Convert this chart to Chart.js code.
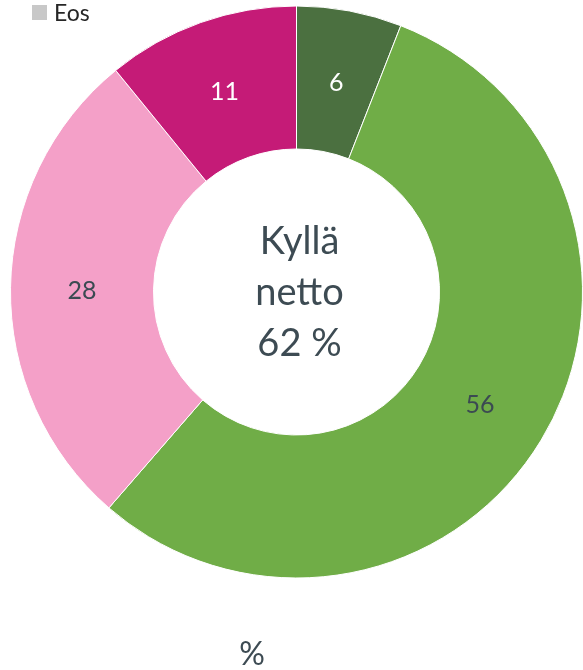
<!DOCTYPE html>
<html>
<head>
<meta charset="utf-8">
<script src="https://cdn.jsdelivr.net/npm/chart.js@4/dist/chart.umd.min.js"></script>
<style>
  html, body { margin: 0; padding: 0; background: #fff; }
  #wrap { width: 583px; height: 670px; position: relative; }
</style>
</head>
<body>
<div id="wrap"><canvas id="myChart" width="583" height="670"></canvas></div>
<script>
var labels = ['Kyllä, ehdottomasti', 'Kyllä, jossain määrin', 'Ei, tuskin', 'Ei, ehdottomasti', 'Eos'];
var values = [6, 56, 28, 11, 0];
var colors = ['#4b7040', '#70ad47', '#f4a0c8', '#c51b77', '#c8c8c8'];
var labelColors = ['#ffffff', '#3b4a52', '#3b4a52', '#ffffff', '#3b4a52'];
var centerLines = ['Kyllä', 'netto', '62 %'];
var unitLabel = '%';

// draws value labels, center text, the legend entry and the unit label
var extras = {
  id: 'extras',
  afterDatasetsDraw: function(chart) {
    var ctx = chart.ctx;
    var meta = chart.getDatasetMeta(0);
    ctx.save();
    ctx.textAlign = 'center';
    ctx.textBaseline = 'middle';
    ctx.font = '25px Lato, "Noto Sans", sans-serif';
    meta.data.forEach(function(arc, i) {
      if (!values[i]) return;
      var p = arc.tooltipPosition();
      ctx.fillStyle = labelColors[i];
      ctx.fillText(values[i], p.x, p.y + 2);
    });

    var c = meta.data[0];
    ctx.fillStyle = '#3d4b53';
    ctx.font = '38px Lato, "Noto Sans", sans-serif';
    centerLines.forEach(function(t, i) {
      ctx.fillText(t, c.x + 3, c.y - 50 + i * 51);
    });

    ctx.font = '32px Lato, "Noto Sans", sans-serif';
    ctx.fillText(unitLabel, 252, 655);

    // legend: only Eos is visible
    ctx.fillStyle = colors[4];
    ctx.fillRect(32, 5, 15, 15);
    ctx.fillStyle = '#262626';
    ctx.textAlign = 'left';
    ctx.font = '23px Lato, "Noto Sans", sans-serif';
    ctx.fillText(labels[4], 54, 14);
    ctx.restore();
  }
};

var ctx = document.getElementById('myChart').getContext('2d');
var myChart = new Chart(ctx, {
  type: 'doughnut',
  data: {
    labels: labels,
    datasets: [{
      data: values,
      backgroundColor: colors,
      borderColor: '#ffffff',
      borderWidth: 1
    }]
  },
  options: {
    responsive: false,
    animation: false,
    cutout: '50%',
    layout: { padding: { left: 10, right: 0, top: 5, bottom: 91 } },
    plugins: {
      legend: { display: false },
      tooltip: { enabled: false }
    }
  },
  plugins: [extras]
});
</script>
</body>
</html>
